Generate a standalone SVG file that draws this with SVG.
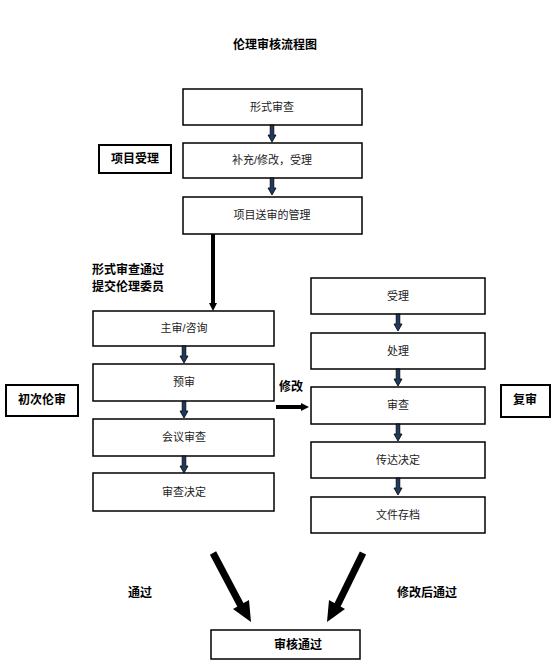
<svg xmlns="http://www.w3.org/2000/svg" width="554" height="667" viewBox="0 0 554 667">
<style>
.box{fill:#fff;stroke:#000;stroke-width:1.5}
.lbl{fill:#fff;stroke:#000;stroke-width:2}
.t{font-family:"Liberation Sans","Noto Sans CJK SC",sans-serif;font-size:11px;fill:#222;text-anchor:middle;dominant-baseline:central}
.b{font-family:"Liberation Sans","Noto Sans CJK SC",sans-serif;font-size:12px;font-weight:bold;fill:#000;dominant-baseline:central}
.sa{fill:#1f3a5f;stroke:#000;stroke-width:0.8}
</style>
<defs>
<path id="sarrow" class="sa" d="M-1.8,0 H1.8 V10 H4 L0,17 L-4,10 H-1.8 Z"/>
</defs>
<rect width="554" height="667" fill="#fff"/>
<text class="b" x="275" y="45" text-anchor="middle">伦理审核流程图</text>

<g id="n-xingshi"><rect class="box" x="183" y="89" width="179" height="36"/><text class="t" x="272" y="107">形式审查</text></g>
<g id="n-buchong"><rect class="box" x="183" y="143" width="179" height="35"/><text class="t" x="272" y="160">补充/修改，受理</text></g>
<g id="n-songshen"><rect class="box" x="183" y="197" width="179" height="37"/><text class="t" x="272" y="215">项目送审的管理</text></g>
<g id="n-xiangmu"><rect class="lbl" x="99" y="145" width="72" height="28"/><text class="b" x="135" y="159" text-anchor="middle">项目受理</text></g>

<g id="n-zhushen"><rect class="box" x="93" y="311" width="181" height="35"/><text class="t" x="184" y="328">主审/咨询</text></g>
<g id="n-yushen"><rect class="box" x="93" y="364" width="181" height="37"/><text class="t" x="184" y="382">预审</text></g>
<g id="n-huiyi"><rect class="box" x="93" y="419" width="181" height="37"/><text class="t" x="184" y="437">会议审查</text></g>
<g id="n-jueding"><rect class="box" x="93" y="473" width="181" height="38"/><text class="t" x="184" y="492">审查决定</text></g>
<g id="n-chuci"><rect class="lbl" x="6" y="385" width="72" height="31"/><text class="b" x="42" y="400" text-anchor="middle">初次伦审</text></g>

<g id="n-shouli"><rect class="box" x="311" y="278" width="174" height="36"/><text class="t" x="398" y="296">受理</text></g>
<g id="n-chuli"><rect class="box" x="311" y="333" width="174" height="36"/><text class="t" x="398" y="351">处理</text></g>
<g id="n-shencha"><rect class="box" x="311" y="387" width="174" height="37"/><text class="t" x="398" y="405">审查</text></g>
<g id="n-chuanda"><rect class="box" x="311" y="442" width="174" height="36"/><text class="t" x="398" y="460">传达决定</text></g>
<g id="n-cundang"><rect class="box" x="311" y="497" width="174" height="36"/><text class="t" x="398" y="515">文件存档</text></g>
<g id="n-fushen"><rect class="lbl" x="501" y="385" width="49" height="32"/><text class="b" x="525" y="400" text-anchor="middle">复审</text></g>

<g id="n-tongguo"><rect class="box" x="211" y="630" width="149" height="29"/><text class="b" x="298" y="645" text-anchor="middle">审核通过</text></g>

<g id="connectors">
<use href="#sarrow" x="272" y="125"/>
<use href="#sarrow" x="272" y="178"/>
<use href="#sarrow" x="184" y="346"/>
<use href="#sarrow" x="184" y="401"/>
<use href="#sarrow" x="184" y="456"/>
<use href="#sarrow" x="398" y="314"/>
<use href="#sarrow" x="398" y="369"/>
<use href="#sarrow" x="398" y="424"/>
<use href="#sarrow" x="398" y="478"/>
<path d="M213,234 V304" stroke="#000" stroke-width="4"/>
<path d="M209,303 L217,303 L213,311 Z" fill="#000"/>
<path d="M276,407 H302" stroke="#000" stroke-width="4"/>
<path d="M301,403 L309,407 L301,411 Z" fill="#000"/>
<path d="M213,553 L241,606" stroke="#000" stroke-width="7"/>
<path d="M233,609 L251,622 L249,600 Z" fill="#000"/>
<path d="M363,553 L337,606" stroke="#000" stroke-width="7"/>
<path d="M329,600 L327,622 L345,609 Z" fill="#000"/>
</g>

<text class="b" x="92" y="270">形式审查通过</text>
<text class="b" x="92" y="287">提交伦理委员</text>
<text class="b" x="279" y="387">修改</text>
<text class="b" x="128" y="593">通过</text>
<text class="b" x="397" y="593">修改后通过</text>
</svg>
